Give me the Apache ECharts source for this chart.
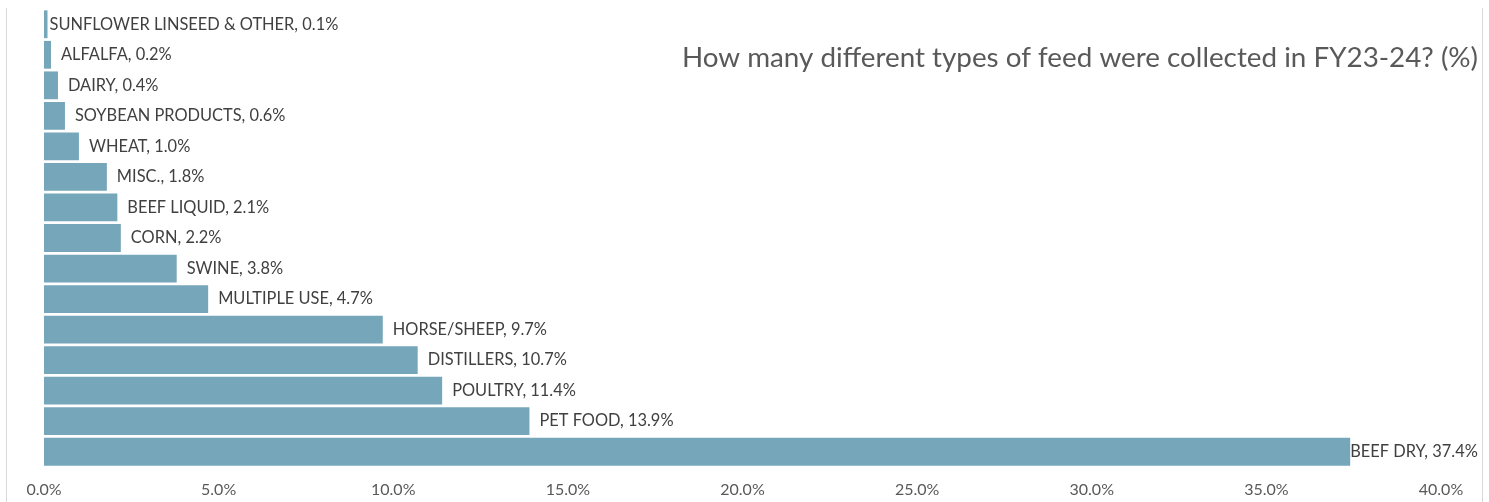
<!DOCTYPE html>
<html>
<head>
<meta charset="utf-8">
<script src="https://cdn.jsdelivr.net/npm/echarts@6/dist/echarts.min.js"></script>
<style>
html,body{margin:0;padding:0;background:#fff;}
#chart{width:1489px;height:502px;}
</style>
</head>
<body>
<div id="chart"></div>
<script>
const categories = ["SUNFLOWER LINSEED & OTHER","ALFALFA","DAIRY","SOYBEAN PRODUCTS","WHEAT","MISC.","BEEF LIQUID","CORN","SWINE","MULTIPLE USE","HORSE/SHEEP","DISTILLERS","POULTRY","PET FOOD","BEEF DRY"];
const values = [0.1,0.2,0.4,0.6,1.0,1.8,2.1,2.2,3.8,4.7,9.7,10.7,11.4,13.9,37.4];
const labelDistances = [2,10,10,10,10,10,10,10,10,10,10,10,10,10,0];
const titleText = "How many different types of feed were collected in FY23-24? (%)";

const chart = echarts.init(document.getElementById('chart'), null, {renderer:'canvas'});
chart.setOption({
  backgroundColor:'#ffffff',
  animation:false,
  title:{
    text:titleText,
    right:6, top:39,
    textStyle:{fontFamily:'Lato', fontSize:27.8, fontWeight:'normal', color:'#595959'}
  },
  graphic:[
    {type:'line', silent:true, shape:{x1:6.5,y1:8,x2:6.5,y2:502}, style:{stroke:'#d9d9d9', lineWidth:1}},
    {type:'line', silent:true, shape:{x1:1482.5,y1:8,x2:1482.5,y2:502}, style:{stroke:'#d9d9d9', lineWidth:1}}
  ],
  grid:{left:44, right:48, top:9, bottom:35},
  xAxis:{
    type:'value', min:0, max:40, interval:5,
    axisLine:{show:false}, axisTick:{show:false}, splitLine:{show:false},
    axisLabel:{formatter:v=>v.toFixed(1)+'%', fontFamily:'Lato', fontSize:16, color:'#595959', margin:15}
  },
  yAxis:{
    type:'category', data:categories, inverse:true,
    axisLine:{show:false}, axisTick:{show:false}, axisLabel:{show:false}, splitLine:{show:false}
  },
  series:[{
    type:'bar',
    barCategoryGap:'9%',
    data:values.map((v,i)=>({value:v, label:{distance:labelDistances[i]}})),
    itemStyle:{color:'#76A6BA'},
    label:{
      show:true, position:'right',
      fontFamily:'Lato', fontSize:16.4, color:'#404040',
      formatter:p=>categories[p.dataIndex]+', '+values[p.dataIndex].toFixed(1)+'%'
    }
  }]
});
</script>
</body>
</html>
